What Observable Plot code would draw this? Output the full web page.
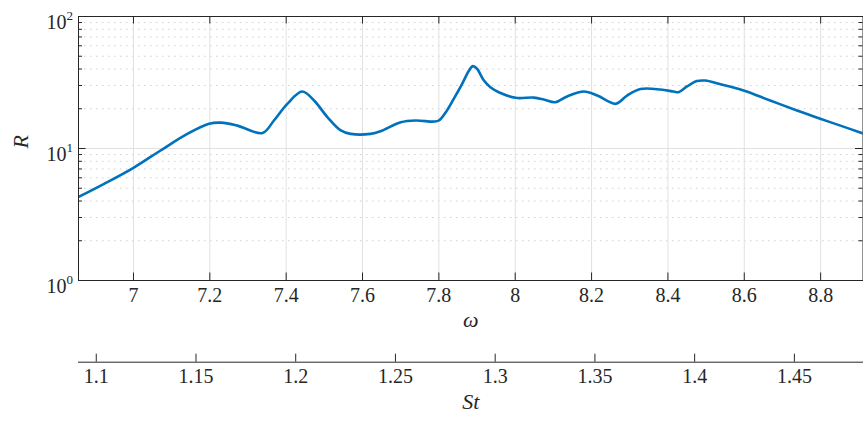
<!DOCTYPE html>
<html>
<head>
<meta charset="utf-8">
<script src="https://cdn.jsdelivr.net/npm/d3@7"></script>
<script src="https://cdn.jsdelivr.net/npm/@observablehq/plot@0.6"></script>
</head>
<body style="margin:0;background:#fff;font-family:'Liberation Serif'">
<div id="chart" style="position:relative;width:863px;height:421px;font-family:'Liberation Serif'"></div>
<script>
// Response amplitude R against forcing frequency ω
const omega = [6.855, 6.923, 7.000, 7.071, 7.141, 7.198, 7.229, 7.272, 7.338, 7.368,
               7.403, 7.442, 7.473, 7.508, 7.543, 7.569, 7.621, 7.647, 7.700, 7.739,
               7.787, 7.800, 7.818, 7.839, 7.861, 7.879, 7.889, 7.900, 7.918, 7.935,
               7.957, 8.001, 8.049, 8.075, 8.105, 8.136, 8.180, 8.215, 8.263, 8.293,
               8.328, 8.380, 8.415, 8.428, 8.450, 8.476, 8.498, 8.533, 8.598, 8.668,
               8.738, 8.799, 8.852, 8.911];
const R     = [4.28, 5.40, 7.14, 9.66, 12.9, 15.4, 15.7, 14.9, 13.1, 16.3,
               21.8, 27.0, 23.1, 17.3, 13.7, 12.9, 12.9, 13.5, 15.8, 16.3,
               16.0, 16.3, 18.8, 23.8, 30.9, 39.0, 42.1, 40.2, 32.7, 29.1,
               26.7, 24.2, 24.3, 23.5, 22.4, 24.8, 27.0, 25.2, 21.8, 25.2,
               28.2, 28.0, 27.0, 26.7, 29.5, 32.4, 32.7, 30.9, 27.5, 23.1,
               19.4, 16.8, 14.9, 13.0];

const omegaRange = [6.856, 8.911];
const omegaTicks = [7, 7.2, 7.4, 7.6, 7.8, 8, 8.2, 8.4, 8.6, 8.8];

// Strouhal number axis drawn underneath
const stRange = [1.0911, 1.4844];
const stTicks = [1.1, 1.15, 1.2, 1.25, 1.3, 1.35, 1.4, 1.45];

const rDecades = [1, 10, 100];
const rExponents = ["0", "1", "2"];
const rMinor = [2, 3, 4, 5, 6, 7, 8, 9, 20, 30, 40, 50, 60, 70, 80, 90];

const serifFace = "Liberation Serif";
const ink = "#262626";
const W = 863;
const frameW = W - 78 - 0.5;
const frameH = 340 - 16 - 60;

const data = omega.map((w, i) => ({omega: w, R: R[i]}));

const main = Plot.plot({
  width: W, height: 340,
  marginLeft: 78, marginRight: 0.5, marginTop: 16, marginBottom: 60,
  x: {domain: omegaRange, axis: null},
  y: {type: "log", domain: [1, 100], axis: null},
  marks: [
    // grid
    Plot.ruleY(rMinor, {stroke: "#cfcfcf", strokeDasharray: "1.5,4.5", strokeWidth: 1}),
    Plot.ruleX(omegaTicks, {stroke: "#e1e1e1", strokeWidth: 1}),
    Plot.ruleY([10], {stroke: "#e1e1e1", strokeWidth: 1}),
    // response curve
    Plot.line(data, {x: "omega", y: "R", curve: "catmull-rom", stroke: "#0072BD", strokeWidth: 2.6, clip: true}),
    Plot.frame({stroke: ink, strokeWidth: 1}),
    // inward ticks on all four sides
    Plot.tickX(omegaTicks, {x: d => d, stroke: ink, insetBottom: frameH - 7.5}),
    Plot.tickX(omegaTicks, {x: d => d, stroke: ink, insetTop: frameH - 7.5}),
    Plot.tickY(rDecades, {y: d => d, stroke: ink, insetRight: frameW - 7.5}),
    Plot.tickY(rDecades, {y: d => d, stroke: ink, insetLeft: frameW - 7.5}),
    Plot.tickY(rMinor, {y: d => d, stroke: ink, insetRight: frameW - 4}),
    Plot.tickY(rMinor, {y: d => d, stroke: ink, insetLeft: frameW - 4}),
    // tick labels
    Plot.text(omegaTicks, {x: d => d, frameAnchor: "bottom", dy: 21.5, text: d => String(d), fontSize: 20, fontFamily: serifFace}),
    Plot.text(rDecades, {y: d => d, frameAnchor: "left", dx: -12, dy: 6.5, text: () => "10", textAnchor: "end", fontSize: 20, fontFamily: serifFace}),
    Plot.text(rDecades, {y: d => d, frameAnchor: "left", dx: -12, dy: -0.5, text: (d, i) => rExponents[i], textAnchor: "start", fontSize: 13, fontFamily: serifFace}),
    // axis titles
    Plot.text(["R"], {frameAnchor: "left", dx: -57.5, rotate: -90, fontSize: 22, fontStyle: "italic", fontFamily: serifFace}),
    Plot.text(["ω"], {frameAnchor: "bottom", dy: 46.5, fontSize: 22, fontStyle: "italic", fontFamily: serifFace})
  ]
});

const stAxis = Plot.plot({
  width: W, height: 81,
  marginLeft: 78, marginRight: 0.5, marginTop: 13.7, marginBottom: 59.3,
  x: {domain: stRange, axis: null},
  marks: [
    Plot.frame({anchor: "bottom", stroke: ink, strokeWidth: 1}),
    Plot.tickX(stTicks, {x: d => d, stroke: ink}),
    Plot.text(stTicks, {x: d => d, frameAnchor: "bottom", dy: 21.1, text: d => String(d), fontSize: 20, fontFamily: serifFace}),
    Plot.text(["St"], {frameAnchor: "bottom", dy: 46.3, fontSize: 22, fontStyle: "italic", fontFamily: serifFace})
  ]
});

main.style.color = ink;
stAxis.style.color = ink;
document.getElementById("chart").append(main, stAxis);
</script>
</body>
</html>
